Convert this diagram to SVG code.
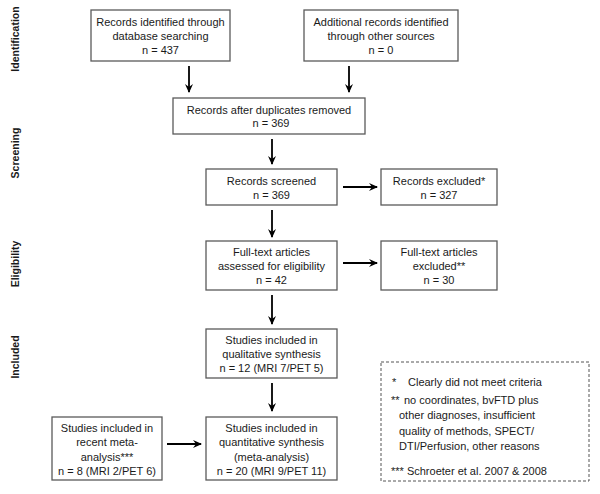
<svg xmlns="http://www.w3.org/2000/svg" width="600" height="494" viewBox="0 0 600 494">
<defs>
<style>
.box{fill:#fff;stroke:#5a5a5a;stroke-width:1.3}
.t{font-family:"Liberation Sans",Arial,sans-serif;font-size:11px;fill:#1a1a1a;text-anchor:middle}
.l{font-family:"Liberation Sans",Arial,sans-serif;font-size:11px;fill:#1a1a1a}
.sec{font-family:"Liberation Sans",Arial,sans-serif;font-size:10.5px;font-weight:bold;fill:#1a1a1a;text-anchor:middle}
.arr{stroke:#000;stroke-width:1.8;fill:none;marker-end:url(#ah)}
.dash{fill:#fff;stroke:#555;stroke-width:1;stroke-dasharray:3,2}
</style>
<marker id="ah" markerWidth="10" markerHeight="10" refX="8" refY="5" orient="auto" markerUnits="userSpaceOnUse">
<path d="M0,1 L9,5 L0,9 L3,5 Z" fill="#000"/>
</marker>
</defs>
<rect width="600" height="494" fill="#fff"/>
<g id="labels">
<text class="sec" transform="translate(19,39) rotate(-90)">Identification</text>
<text class="sec" transform="translate(19,153) rotate(-90)">Screening</text>
<text class="sec" transform="translate(19,264) rotate(-90)">Eligibility</text>
<text class="sec" transform="translate(19,357) rotate(-90)">Included</text>
</g>
<g id="connectors">
<line class="arr" x1="189" y1="66" x2="189" y2="92"/>
<line class="arr" x1="349" y1="66" x2="349" y2="92"/>
<line class="arr" x1="272" y1="139" x2="272" y2="164"/>
<line class="arr" x1="272" y1="210" x2="272" y2="237"/>
<line class="arr" x1="272" y1="295" x2="272" y2="324"/>
<line class="arr" x1="272" y1="383" x2="272" y2="411"/>
<line class="arr" x1="343" y1="187" x2="377" y2="187"/>
<line class="arr" x1="343" y1="263" x2="377" y2="263"/>
<line class="arr" x1="167" y1="444" x2="201" y2="444"/>
</g>
<g id="n1">
<rect class="box" x="91" y="10" width="139" height="51"/>
<text class="t" x="160.5" y="26">Records identified through</text>
<text class="t" x="160.5" y="40">database searching</text>
<text class="t" x="160.5" y="54">n = 437</text>
</g>
<g id="n2">
<rect class="box" x="304" y="10" width="154" height="51"/>
<text class="t" x="381" y="26">Additional records identified</text>
<text class="t" x="381" y="40">through other sources</text>
<text class="t" x="381" y="54">n = 0</text>
</g>
<g id="n3">
<rect class="box" x="173" y="98" width="192" height="36"/>
<text class="t" x="269" y="114">Records after duplicates removed</text>
<text class="t" x="271" y="127">n = 369</text>
</g>
<g id="n4">
<rect class="box" x="206" y="169" width="131" height="36"/>
<text class="t" x="271.5" y="185">Records screened</text>
<text class="t" x="271.5" y="199">n = 369</text>
</g>
<g id="n5">
<rect class="box" x="381" y="169" width="116" height="36"/>
<text class="t" x="439" y="185">Records excluded*</text>
<text class="t" x="439" y="199">n = 327</text>
</g>
<g id="n6">
<rect class="box" x="206" y="241" width="131" height="49"/>
<text class="t" x="271.5" y="256">Full-text articles</text>
<text class="t" x="271.5" y="270">assessed for eligibility</text>
<text class="t" x="271.5" y="284">n = 42</text>
</g>
<g id="n7">
<rect class="box" x="381" y="241" width="116" height="49"/>
<text class="t" x="439" y="256">Full-text articles</text>
<text class="t" x="439" y="270">excluded**</text>
<text class="t" x="439" y="284">n = 30</text>
</g>
<g id="n8">
<rect class="box" x="206" y="329" width="131" height="49"/>
<text class="t" x="271.5" y="344">Studies included in</text>
<text class="t" x="271.5" y="358">qualitative synthesis</text>
<text class="t" x="271.5" y="372">n = 12 (MRI 7/PET 5)</text>
</g>
<g id="n9">
<rect class="box" x="206" y="417" width="131" height="63"/>
<text class="t" x="271.5" y="432">Studies included in</text>
<text class="t" x="271.5" y="446">quantitative synthesis</text>
<text class="t" x="271.5" y="461">(meta-analysis)</text>
<text class="t" x="271.5" y="475">n = 20 (MRI 9/PET 11)</text>
</g>
<g id="n10">
<rect class="box" x="52" y="417" width="110" height="63"/>
<text class="t" x="107" y="432">Studies included in</text>
<text class="t" x="107" y="446">recent meta-</text>
<text class="t" x="107" y="461">analysis***</text>
<text class="t" x="107" y="475">n = 8 (MRI 2/PET 6)</text>
</g>
<g id="legend">
<rect class="dash" x="381" y="362" width="208" height="119"/>
<text class="l" x="392" y="386">*</text>
<text class="l" x="408" y="386">Clearly did not meet criteria</text>
<text class="l" x="391" y="404">**</text>
<text class="l" x="404" y="404">no coordinates, bvFTD plus</text>
<text class="l" x="399" y="419">other diagnoses, insufficient</text>
<text class="l" x="399" y="435">quality of methods, SPECT/</text>
<text class="l" x="399" y="450">DTI/Perfusion, other reasons</text>
<text class="l" x="391" y="475">*** Schroeter et al. 2007 &amp; 2008</text>
</g>
</svg>
